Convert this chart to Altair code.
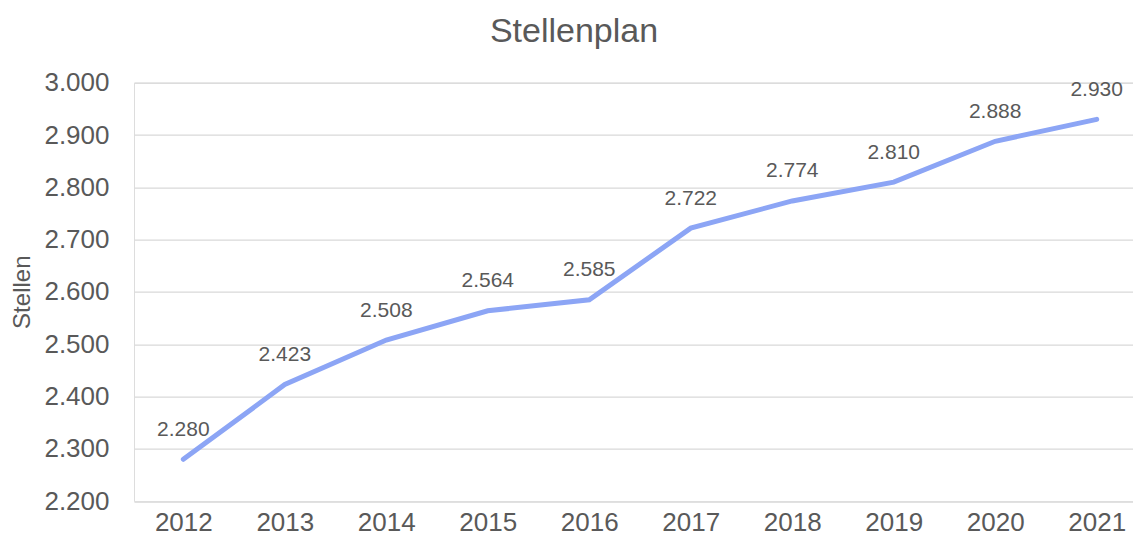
import altair as alt
import pandas as pd

years = [2012, 2013, 2014, 2015, 2016, 2017, 2018, 2019, 2020, 2021]
stellen = [2280, 2423, 2508, 2564, 2585, 2722, 2774, 2810, 2888, 2930]
y_ticks = [2200, 2300, 2400, 2500, 2600, 2700, 2800, 2900, 3000]

df = pd.DataFrame({"Jahr": years, "Stellen": stellen})

FONT = "Liberation Sans"
GREY = "#595959"
LINE = "#8ca5f5"

x_enc = alt.X(
    "Jahr:Q",
    scale=alt.Scale(domain=[2011.514, 2021.3577], nice=False, zero=False),
    axis=alt.Axis(
        values=years, format="d", grid=False, domain=False, ticks=False, tickSize=0,
        labelFontSize=26, labelColor=GREY, labelFont=FONT, labelPadding=8,
        title=None, labelFlush=False, labelOverlap=False,
    ),
)
y_enc = alt.Y(
    "Stellen:Q",
    scale=alt.Scale(domain=[2200, 3000], nice=False, zero=False),
    axis=alt.Axis(
        values=y_ticks,
        labelExpr="replace(format(datum.value, ',d'), ',', '.')",
        grid=True, gridColor="#d9d9d9", gridWidth=1.3,
        domain=False, ticks=False, tickSize=0,
        labelFontSize=26, labelColor=GREY, labelFont=FONT, labelPadding=25,
        title="Stellen", titleFontSize=24, titleColor=GREY, titleFont=FONT,
        titleFontWeight="normal", titleAngle=270, titleX=-112, titleY=209,
        titleAlign="center", titleBaseline="middle",
    ),
)

line = alt.Chart(df).mark_line(color=LINE, strokeWidth=5, strokeCap="round").encode(
    x=x_enc, y=y_enc
)

labels = alt.Chart(df).transform_calculate(
    lab="replace(format(datum.Stellen, ',d'), ',', '.')"
).mark_text(
    fontSize=21, color=GREY, font=FONT, dy=-29.5, baseline="middle", align="center"
).encode(x="Jahr:Q", y="Stellen:Q", text="lab:N")

chart = alt.layer(line, labels).properties(
    width=999,
    height=418.5,
    title=alt.TitleParams(
        "Stellenplan", fontSize=34, font=FONT, color=GREY, fontWeight="normal",
        anchor="middle", dx=-59.5, offset=21,
    ),
    autosize=alt.AutoSizeParams(type="none"),
    padding={"left": 126, "top": 74.7, "right": 0, "bottom": 35.8},
).configure_view(stroke=None).configure(background="white")

chart.save("out.html", embed_options={"renderer": "svg", "actions": False})
